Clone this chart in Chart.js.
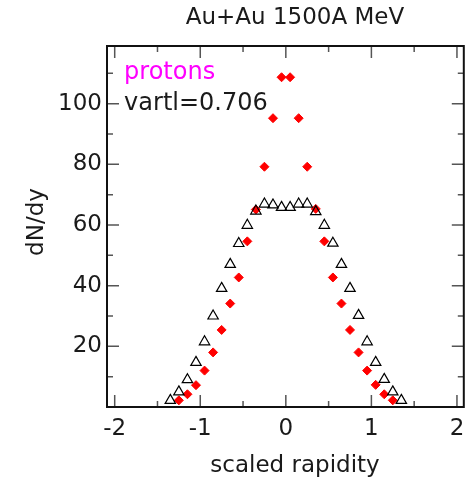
<!DOCTYPE html>
<html>
<head>
<meta charset="utf-8">
<script src="https://cdn.jsdelivr.net/npm/chart.js@4.4.1/dist/chart.umd.min.js"></script>
<style>
  html, body { margin: 0; padding: 0; background: #fff; }
  #wrap { width: 471px; height: 480px; }
</style>
</head>
<body>
<div id="wrap"><canvas id="dndy"></canvas></div>
<script>
// data
var rapidityTri = [-1.35, -1.25, -1.15, -1.05, -0.95, -0.85, -0.75, -0.65, -0.55, -0.45, -0.35, -0.25, -0.15, -0.05,
                    0.05, 0.15, 0.25, 0.35, 0.45, 0.55, 0.65, 0.75, 0.85, 0.95, 1.05, 1.15, 1.25, 1.35];
var dndyTri = [2.2, 5.0, 9.0, 14.7, 21.5, 30.0, 39.1, 47.0, 53.9, 59.9, 64.6, 66.9, 66.6, 65.8,
               65.8, 66.9, 66.9, 64.4, 59.9, 54.0, 47.0, 39.1, 30.2, 21.5, 14.7, 9.1, 5.0, 2.2];

var rapidityDia = [-1.25, -1.15, -1.05, -0.95, -0.85, -0.75, -0.65, -0.55, -0.45, -0.35, -0.25, -0.15, -0.05,
                    0.05, 0.15, 0.25, 0.35, 0.45, 0.55, 0.65, 0.75, 0.85, 0.95, 1.05, 1.15, 1.25];
var dndyDia = [2.2, 4.2, 7.2, 12.0, 18.0, 25.4, 34.1, 42.7, 54.6, 65.1, 79.2, 95.2, 108.7,
               108.7, 95.2, 79.2, 65.3, 54.6, 42.7, 34.1, 25.4, 18.0, 12.0, 7.3, 4.2, 2.2];

var xTicks = [-2, -1, 0, 1, 2];
var xMinor = [-1.5, -0.5, 0.5, 1.5];
var yTicks = [20, 40, 60, 80, 100];
var yMinor = [10, 30, 50, 70, 90, 110];

var titleText = "Au+Au 1500A MeV";
var xTitle = "scaled rapidity";
var yTitle = "dN/dy";
var label1 = "protons";
var label2 = "vartl=0.706";

var FONT = "'DejaVu Sans', Verdana, sans-serif";

function pairs(xs, ys) {
    return xs.map(function (x, i) { return { x: x, y: ys[i] }; });
}

// frame, inside ticks on all four sides, titles and labels
var framePlugin = {
    id: 'frame',
    afterDraw: function (chart) {
        var ctx = chart.ctx, a = chart.chartArea;
        var sx = chart.scales.x, sy = chart.scales.y;
        ctx.save();

        ctx.strokeStyle = '#555';
        ctx.lineWidth = 1.5;
        function xt(v, len) {
            var p = sx.getPixelForValue(v);
            ctx.beginPath();
            ctx.moveTo(p, a.bottom); ctx.lineTo(p, a.bottom - len);
            ctx.moveTo(p, a.top); ctx.lineTo(p, a.top + len);
            ctx.stroke();
        }
        function yt(v, len) {
            var p = sy.getPixelForValue(v);
            ctx.beginPath();
            ctx.moveTo(a.left, p); ctx.lineTo(a.left + len, p);
            ctx.moveTo(a.right, p); ctx.lineTo(a.right - len, p);
            ctx.stroke();
        }
        xTicks.forEach(function (v) { xt(v, 12); });
        xMinor.forEach(function (v) { xt(v, 6); });
        yTicks.forEach(function (v) { yt(v, 12); });
        yMinor.forEach(function (v) { yt(v, 6); });

        ctx.strokeStyle = '#111';
        ctx.lineWidth = 2;
        ctx.strokeRect(a.left, a.top, a.right - a.left, a.bottom - a.top);

        ctx.fillStyle = '#1a1a1a';
        ctx.textAlign = 'center';
        ctx.textBaseline = 'middle';
        ctx.font = '23px ' + FONT;
        ctx.fillText(titleText, 295, 18);
        ctx.fillText(xTitle, 295, 466);

        ctx.save();
        ctx.translate(37, 222);
        ctx.rotate(-Math.PI / 2);
        ctx.fillText(yTitle, 0, 0);
        ctx.restore();

        ctx.textAlign = 'left';
        ctx.font = '24px ' + FONT;
        ctx.fillStyle = '#ff00ff';
        ctx.fillText(label1, sx.getPixelForValue(-1.89), sy.getPixelForValue(110.2));
        ctx.fillStyle = '#1a1a1a';
        ctx.fillText(label2, sx.getPixelForValue(-1.89), sy.getPixelForValue(99.8));
        ctx.restore();
    }
};

var ctx = document.getElementById('dndy');
var dndyChart = new Chart(ctx, {
    type: 'scatter',
    data: {
        datasets: [{
            label: 'triangles',
            data: pairs(rapidityTri, dndyTri),
            pointStyle: 'triangle',
            pointRadius: 6,
            pointBorderWidth: 1.2,
            borderColor: '#000',
            backgroundColor: 'rgba(0,0,0,0)'
        }, {
            label: 'diamonds',
            data: pairs(rapidityDia, dndyDia),
            pointStyle: 'rectRot',
            pointRadius: 4.5,
            pointBorderWidth: 1,
            borderColor: '#ff0000',
            backgroundColor: '#ff0000'
        }]
    },
    options: {
        responsive: true,
        maintainAspectRatio: false,
        animation: false,
        events: [],
        layout: { padding: { top: 46, right: 1, left: 0, bottom: 0 } },
        plugins: {
            legend: { display: false },
            title: { display: false },
            tooltip: { enabled: false }
        },
        scales: {
            x: {
                type: 'linear',
                min: -2.09,
                max: 2.08,
                grid: { display: false, drawTicks: false },
                border: { display: false },
                ticks: {
                    stepSize: 1,
                    includeBounds: false,
                    padding: 8,
                    color: '#1a1a1a',
                    font: { family: FONT, size: 23 }
                },
                afterFit: function (scale) {
                    scale.height = 73;
                    scale.paddingLeft = 0;
                    scale.paddingRight = 0;
                }
            },
            y: {
                type: 'linear',
                min: 0,
                max: 119,
                grid: { display: false, drawTicks: false },
                border: { display: false },
                ticks: {
                    stepSize: 20,
                    includeBounds: false,
                    padding: 5,
                    color: '#1a1a1a',
                    font: { family: FONT, size: 23 },
                    callback: function (v) { return v === 0 ? '' : v; }
                },
                afterFit: function (scale) {
                    scale.width = 107;
                    scale.paddingTop = 0;
                    scale.paddingBottom = 0;
                }
            }
        }
    },
    plugins: [framePlugin]
});
</script>
</body>
</html>
